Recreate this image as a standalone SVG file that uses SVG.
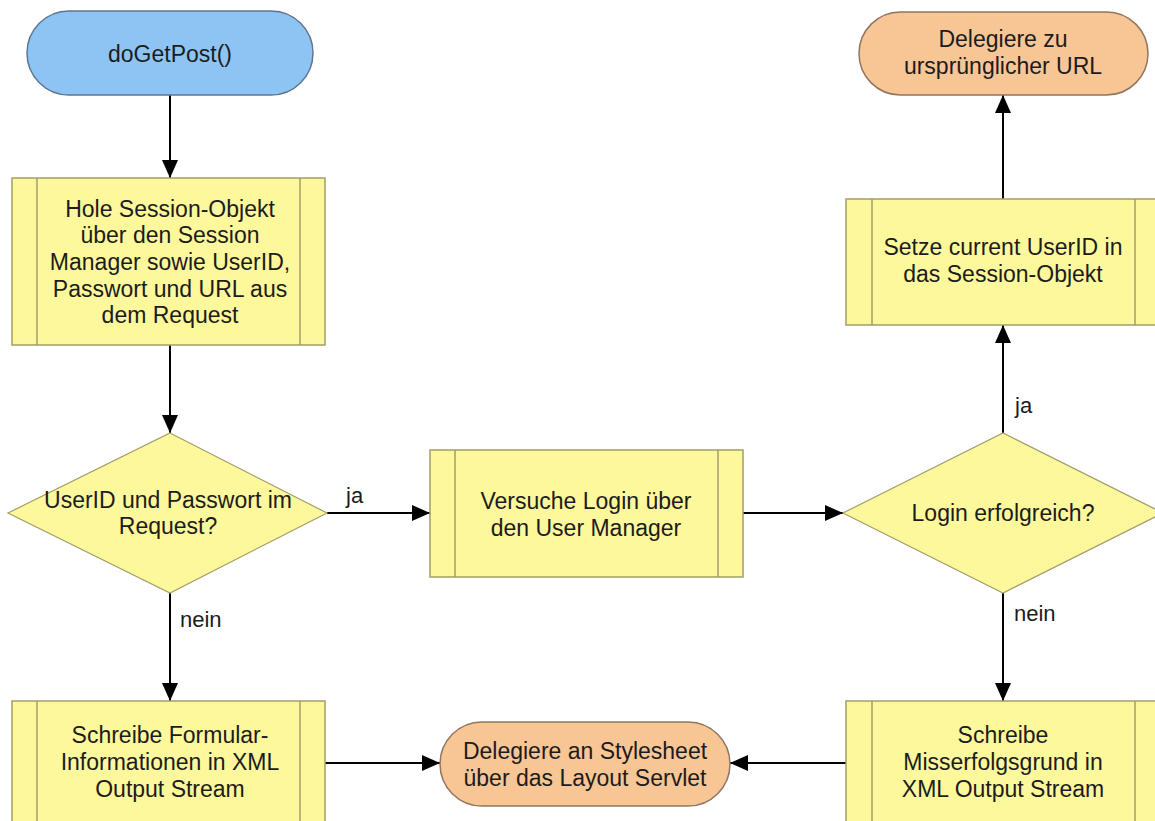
<svg xmlns="http://www.w3.org/2000/svg" width="1155" height="821" viewBox="0 0 1155 821">
<defs>
<marker id="arr" markerUnits="userSpaceOnUse" markerWidth="18" markerHeight="16" refX="18" refY="8" orient="auto">
<path d="M0,0 L18,8 L0,16 z" fill="#000"/>
</marker>
<style>
.t{font-family:"Liberation Sans",Arial,sans-serif;font-size:23px;fill:#1c1c1c;text-anchor:middle}
.l{font-family:"Liberation Sans",Arial,sans-serif;font-size:22px;fill:#1c1c1c}
.proc{fill:#FDF89B;stroke:#A39E6A;stroke-width:1.5}
.inner{stroke:#A39E6A;stroke-width:1.5;fill:none}
.dec{fill:#FDF89B;stroke:#A39E6A;stroke-width:1.2}
.start{fill:#8EC4F4;stroke:#5F7690;stroke-width:1.5}
.end{fill:#F8C595;stroke:#8E7660;stroke-width:1.5}
.c{stroke:#000;stroke-width:2;fill:none;marker-end:url(#arr)}
</style>
</defs>
<rect width="1155" height="821" fill="#fff"/>

<g id="connectors">
<path class="c" d="M170,95 L170,178"/>
<path class="c" d="M170,345 L170,433"/>
<path class="c" d="M327,513 L430,513"/>
<path class="c" d="M170,593 L170,701"/>
<path class="c" d="M743,513 L843,513"/>
<path class="c" d="M1003,433 L1003,325"/>
<path class="c" d="M1003,199 L1003,95"/>
<path class="c" d="M1003,593 L1003,701"/>
<path class="c" d="M325,763 L440,763"/>
<path class="c" d="M846,763 L730,763"/>
<text class="l" x="346" y="503">ja</text>
<text class="l" x="180" y="627">nein</text>
<text class="l" x="1015" y="413">ja</text>
<text class="l" x="1014" y="621">nein</text>
</g>

<g id="start">
<rect class="start" x="27" y="11" width="286" height="84" rx="42" ry="42"/>
<text class="t" x="170" y="62">doGetPost()</text>
</g>

<g id="holeSession">
<rect class="proc" x="12" y="178" width="313" height="167"/>
<line class="inner" x1="37" y1="178" x2="37" y2="345"/>
<line class="inner" x1="300" y1="178" x2="300" y2="345"/>
<text class="t" x="170" y="217">Hole Session-Objekt</text>
<text class="t" x="170" y="243">über den Session</text>
<text class="t" x="170" y="270">Manager sowie UserID,</text>
<text class="t" x="170" y="297">Passwort und URL aus</text>
<text class="t" x="170" y="323">dem Request</text>
</g>

<g id="decisionUserID">
<polygon class="dec" points="170,433 327,513 170,593 8,513"/>
<text class="t" x="168" y="508">UserID und Passwort im</text>
<text class="t" x="168" y="534">Request?</text>
</g>

<g id="versucheLogin">
<rect class="proc" x="430" y="450" width="313" height="127"/>
<line class="inner" x1="455" y1="450" x2="455" y2="577"/>
<line class="inner" x1="718" y1="450" x2="718" y2="577"/>
<text class="t" x="586" y="509">Versuche Login über</text>
<text class="t" x="586" y="536">den User Manager</text>
</g>

<g id="decisionLogin">
<polygon class="dec" points="1003,433 1163,513 1003,593 843,513"/>
<text class="t" x="1003" y="521">Login erfolgreich?</text>
</g>

<g id="setzeUserID">
<rect class="proc" x="846" y="199" width="316" height="126"/>
<line class="inner" x1="872" y1="199" x2="872" y2="325"/>
<line class="inner" x1="1135" y1="199" x2="1135" y2="325"/>
<text class="t" x="1003" y="255">Setze current UserID in</text>
<text class="t" x="1003" y="282">das Session-Objekt</text>
</g>

<g id="delegiereURL">
<rect class="end" x="859" y="12" width="289" height="83" rx="41.5" ry="41.5"/>
<text class="t" x="1003" y="47">Delegiere zu</text>
<text class="t" x="1003" y="74">ursprünglicher URL</text>
</g>

<g id="schreibeFormular">
<rect class="proc" x="12" y="701" width="313" height="160"/>
<line class="inner" x1="37" y1="701" x2="37" y2="861"/>
<line class="inner" x1="300" y1="701" x2="300" y2="861"/>
<text class="t" x="170" y="743">Schreibe Formular-</text>
<text class="t" x="170" y="770">Informationen in XML</text>
<text class="t" x="170" y="797">Output Stream</text>
</g>

<g id="delegiereStylesheet">
<rect class="end" x="440" y="722" width="290" height="84" rx="42" ry="42"/>
<text class="t" x="585" y="759">Delegiere an Stylesheet</text>
<text class="t" x="585" y="786">über das Layout Servlet</text>
</g>

<g id="schreibeMisserfolg">
<rect class="proc" x="846" y="701" width="316" height="160"/>
<line class="inner" x1="872" y1="701" x2="872" y2="861"/>
<line class="inner" x1="1135" y1="701" x2="1135" y2="861"/>
<text class="t" x="1003" y="743">Schreibe</text>
<text class="t" x="1003" y="770">Misserfolgsgrund in</text>
<text class="t" x="1003" y="797">XML Output Stream</text>
</g>
</svg>
